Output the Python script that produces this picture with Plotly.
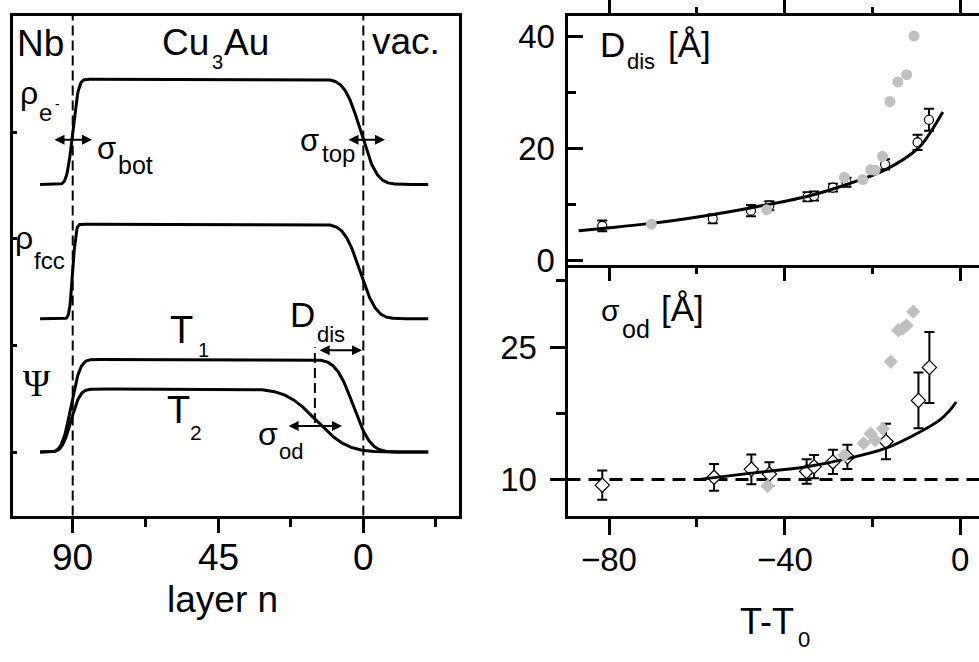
import numpy as np
from math import erf, sqrt
import plotly.graph_objects as go

SANS = "Liberation Sans, Arial, sans-serif"
SERIF = "Liberation Serif, Times New Roman, serif"

# ---------------- left panel: schematic depth profiles ----------------
# layer index n: Nb interface at n = 90, surface (vacuum) at n = 0
layer_start, layer_end = 100.1, -20.1
# (baseline, height, bottom-interface centre, bottom width, top-interface centre, top width)
profile_rho_e = (6.86, 2.17, 90.0, 1.4, 0.8, 3.9)
profile_rho_fcc = (4.09, 1.95, 90.0, 0.8, 1.0, 3.9)
profile_psi_T1 = (1.34, 1.91, 90.5, 2.2, 3.1, 4.2)
profile_psi_T2 = (1.34, 1.30, 90.5, 2.2, 14.5, 7.5)
layer_ticks = [90, 45, 0]
layer_tick_text = ["90", "45", "0"]

# ---------------- right panels: temperature series ----------------
temp_ticks = [-80, -40, 0]
temp_tick_text = ["\u221280", "\u221240", "0"]

T_D_open = [-81.6, -56.4, -47.7, -43.5, -34.8, -33.3, -29.0, -25.9, -17.1, -9.7, -7.1]
D_open = [6.16, 7.44, 8.88, 9.75, 11.36, 11.48, 12.99, 13.96, 17.15, 21.08, 25.13]
D_err = [0.95, 0.8, 1.0, 0.8, 0.8, 0.8, 0.7, 0.8, 0.9, 1.35, 1.95]
T_D_gray = [-70.4, -44.1, -26.4, -22.2, -20.4, -19.4, -17.7, -16.0, -14.2, -12.2, -10.5]
D_gray = [6.45, 9.05, 14.83, 14.43, 16.17, 16.1, 18.6, 28.4, 31.9, 33.2, 40.1]
T_D_fit = [-87.0, -81.6, -70.4, -56.2, -47.6, -35.0, -25.7, -17.0, -9.6, -6.5, -3.95]
D_fit = [5.3, 5.7, 6.6, 8.2, 9.4, 11.4, 13.6, 16.2, 20.0, 23.2, 26.5]

T_s_open = [-81.6, -56.1, -47.6, -43.5, -35.0, -33.3, -29.0, -25.7, -16.9, -9.5, -7.0]
s_open = [9.37, 10.25, 11.16, 10.62, 10.91, 11.46, 12.0, 12.56, 14.31, 18.96, 22.69]
s_err = [1.66, 1.52, 1.68, 1.34, 1.39, 1.32, 1.37, 1.37, 2.0, 3.15, 4.02]
T_s_gray = [-43.9, -26.4, -22.0, -20.4, -19.4, -17.6, -15.8, -14.1, -13.1, -12.2, -10.7]
s_gray = [9.26, 12.74, 14.1, 15.19, 14.46, 15.74, 23.35, 26.9, 27.1, 27.45, 29.0]
T_s_fit = [-59.0, -47.6, -35.0, -25.7, -16.9, -9.5, -4.6, -2.3, -0.9]
s_fit = [10.05, 10.73, 11.46, 12.37, 13.55, 15.3, 16.76, 17.86, 18.78]
s_reference = 10


def profile(n, params):
    base, height, nb, wb, nt, wt = params
    bottom = np.array([0.5 * (1 + erf((nb - v) / (sqrt(2) * wb))) for v in n])
    top = np.array([0.5 * (1 + erf((v - nt) / (sqrt(2) * wt))) for v in n])
    return base + height * bottom * top


n = np.arange(layer_start, layer_end - 0.01, -0.2)

fig = go.Figure()
for p in (profile_rho_e, profile_rho_fcc, profile_psi_T1, profile_psi_T2):
    fig.add_trace(go.Scatter(x=n, y=profile(n, p), mode="lines",
                             line=dict(color="black", width=3), xaxis="x", yaxis="y",
                             hoverinfo="skip"))

# D_dis panel
fig.add_trace(go.Scatter(x=T_D_open, y=D_open, mode="markers", xaxis="x2", yaxis="y2",
                         error_y=dict(type="data", array=D_err, color="black", thickness=2, width=5),
                         marker=dict(symbol="circle", size=9, color="white",
                                     line=dict(color="black", width=1.2))))
fig.add_trace(go.Scatter(x=T_D_fit, y=D_fit, mode="lines", line_shape="spline",
                         line=dict(color="black", width=3), xaxis="x2", yaxis="y2"))
fig.add_trace(go.Scatter(x=T_D_gray, y=D_gray, mode="markers", xaxis="x2", yaxis="y2",
                         marker=dict(symbol="circle", size=11, color="#c0c0c0")))

# sigma_od panel
fig.add_trace(go.Scatter(x=T_s_open, y=s_open, mode="markers", xaxis="x3", yaxis="y3",
                         error_y=dict(type="data", array=s_err, color="black", thickness=2, width=5),
                         marker=dict(symbol="diamond", size=11, color="white",
                                     line=dict(color="black", width=1.2))))
fig.add_trace(go.Scatter(x=T_s_fit, y=s_fit, mode="lines", line_shape="spline",
                         line=dict(color="black", width=3), xaxis="x3", yaxis="y3"))
fig.add_trace(go.Scatter(x=T_s_gray, y=s_gray, mode="markers", xaxis="x3", yaxis="y3",
                         marker=dict(symbol="diamond", size=11, color="#c0c0c0")))

W, H = 979, 662


def px(x):
    return x / W


def py(y):
    return 1 - y / H


def label(x, y, text, size, family=SANS):
    return dict(x=px(x), y=py(y), xref="paper", yref="paper", text=text, showarrow=False,
                xanchor="left", yanchor="middle",
                font=dict(size=size, family=family, color="black"))


def tick_label(xref, x, y, text, size):
    return dict(x=x, y=py(y), xref=xref, yref="paper", text=text, showarrow=False,
                xanchor="center", yanchor="middle",
                font=dict(size=size, family=SANS, color="black"))


def double_arrow(x0, x1, y):
    return dict(x=x1, y=y, ax=x0, ay=y, xref="x", yref="y", axref="x", ayref="y", text="",
                showarrow=True, arrowhead=2, startarrowhead=2, arrowside="end+start",
                arrowsize=1, startarrowsize=1, arrowwidth=2, arrowcolor="black")


annotations = [
    label(15, 39, "Nb", 37),
    label(160, 37.5, "Cu", 37), label(210, 58, "3", 20), label(222, 37.5, "Au", 37),
    label(370, 37, "vac.", 37),
    label(18, 90, "ρ", 32), label(37, 110, "e", 24), label(53, 101, "-", 14),
    label(13, 239, "ρ", 32), label(32, 262, "fcc", 24),
    label(21, 389, "Ψ", 37, SERIF),
    label(95, 147, "σ", 31), label(116, 164, "bot", 25),
    label(298, 139, "σ", 31), label(320, 152, "top", 24),
    label(168, 334, "T", 38), label(196, 355, "1", 20),
    label(288, 318, "D", 35), label(315, 339, "dis", 22),
    label(165, 417, "T", 38), label(188, 440, "2", 21),
    label(256, 441, "σ", 32), label(277, 459, "od", 22),
    label(598, 40, "D", 35), label(625, 57, "dis", 22), label(666, 40, "[Å]", 35),
    label(599, 314, "σ", 30), label(620, 333, "od", 25), label(659, 312, "[Å]", 35),
    dict(x=px(222), y=py(612), xref="paper", yref="paper", text="layer n", showarrow=False,
         xanchor="center", yanchor="middle", font=dict(size=37, family=SANS, color="black")),
    label(738, 635, "T-T", 36), label(796, 653, "0", 22),
    double_arrow(96.1, 84.0, 7.78),
    double_arrow(5.05, -6.7, 7.78),
    double_arrow(14.0, 0.4, 3.44),
    double_arrow(23.6, 6.6, 1.88),
]
annotations += [tick_label("x", v, 569, t, 37) for v, t in zip(layer_ticks, layer_tick_text)]
annotations += [tick_label("x3", v, 571, t, 33) for v, t in zip(temp_ticks, temp_tick_text)]

dash_v = dict(color="black", width=2, dash="10px,5px")
shapes = [
    dict(type="line", xref="x", yref="y domain", x0=90, x1=90, y0=0, y1=1, line=dash_v, layer="below"),
    dict(type="line", xref="x", yref="y domain", x0=0, x1=0, y0=0, y1=1, line=dash_v, layer="below"),
    dict(type="line", xref="x", yref="y", x0=15, x1=15, y0=1.94, y1=3.5, line=dash_v, layer="below"),
    dict(type="line", xref="x3 domain", yref="y3", x0=0, x1=1, y0=s_reference, y1=s_reference,
         line=dict(color="black", width=3, dash="13px,8px"), layer="below"),
]

axis_common = dict(showgrid=False, zeroline=False, showline=True, linecolor="black",
                   linewidth=3, tickcolor="black", tickwidth=3,
                   tickfont=dict(family=SANS, size=33, color="black"))

# plot-area edges in pixels (axis lines are drawn just outside these)
left_x = [13.2, 458.5]
right_x = [567.5, 979]
top_y, mid_y, bot_y = 9.8, 267.2, 525.5

fig.update_layout(
    width=W, height=H, autosize=False, showlegend=False,
    margin=dict(l=0, r=0, t=0, b=0, pad=0),
    paper_bgcolor="white", plot_bgcolor="white",
    annotations=annotations, shapes=shapes,
    xaxis=dict(axis_common, domain=[px(left_x[0]), px(left_x[1])], anchor="y",
               range=[108.43, -29.48], tickvals=layer_ticks, ticks="outside", ticklen=14,
               minor=dict(dtick=22.5, tick0=0, ticks="outside", ticklen=8, tickwidth=3,
                          tickcolor="black"),
               mirror=True, showticklabels=False),
    yaxis=dict(axis_common, domain=[py(bot_y), py(top_y)], anchor="x", range=[0.03, 10.344],
               tickvals=[1.34, 3.54, 5.74, 7.94], ticks="inside", ticklen=4,
               showticklabels=False, mirror=True),
    xaxis2=dict(axis_common, domain=[px(right_x[0]), 1], anchor="y2",
                range=[-89.53, 4.31], tickvals=temp_ticks, ticks="outside", ticklen=13,
                minor=dict(dtick=20, tick0=0, ticks="outside", ticklen=6, tickwidth=3,
                           tickcolor="black"),
                showticklabels=False, mirror="ticks"),
    yaxis2=dict(axis_common, domain=[py(mid_y), py(top_y)], anchor="x2",
                range=[-0.867, 43.78], tick0=0, dtick=20, ticks="inside", ticklen=15,
                minor=dict(dtick=10, tick0=0, ticks="inside", ticklen=8, tickwidth=3,
                           tickcolor="black"),
                ticklabelstandoff=3),
    xaxis3=dict(axis_common, domain=[px(right_x[0]), 1], anchor="y3",
                range=[-89.53, 4.31], tickvals=temp_ticks, ticks="outside", ticklen=16,
                minor=dict(dtick=20, tick0=0, ticks="outside", ticklen=8, tickwidth=3,
                           tickcolor="black"),
                mirror=False, showticklabels=False),
    yaxis3=dict(axis_common, domain=[py(bot_y), py(mid_y)], anchor="x3",
                range=[5.92, 34.27], tick0=10, dtick=15, ticks="outside", ticklen=15,
                minor=dict(dtick=7.5, tick0=10, ticks="outside", ticklen=9, tickwidth=3,
                           tickcolor="black"),
                ticklabelstandoff=6),
)

fig.write_html("out.html")
